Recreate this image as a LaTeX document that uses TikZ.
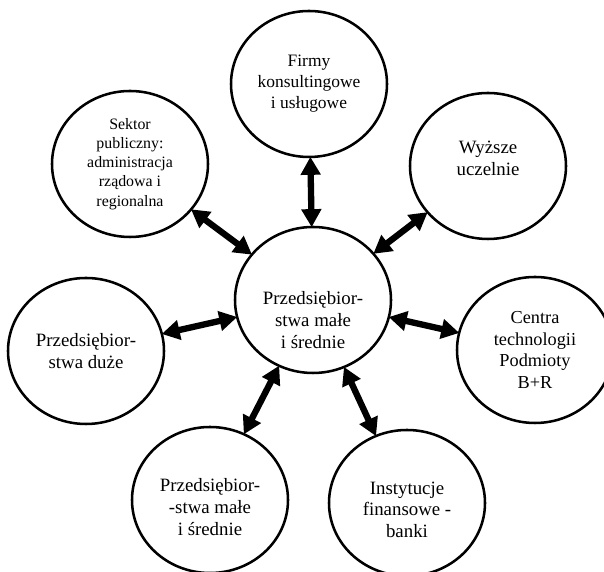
\documentclass[tikz,border=0pt]{standalone}
\usepackage{fontspec}
\setmainfont{Liberation Serif}
\usetikzlibrary{shapes.geometric,arrows.meta}
\newcommand{\w}{3.9cm}
\newcommand{\h}{3.65cm}

\begin{document}
\begin{tikzpicture}[bubble/.style={draw, ellipse, line width=1.8pt, minimum width=\w, minimum height=\h, align=center, inner sep=0pt, font=\fontsize{13.4}{15.6}\selectfont},
    txt/.style={align=center, font=\fontsize{13.4}{15.6}\selectfont},
    link/.style={{Triangle[length=0.45cm,width=0.48cm]}-{Triangle[length=0.45cm,width=0.48cm]}, line width=4.5pt, shorten <=-1pt, shorten >=-1pt}]
    \useasboundingbox (0,0) rectangle (15.1,14.3);

    % Middle
    \node[bubble, label={[txt, yshift=-0.5cm]center:Przedsiębior-\\stwa małe\\i średnie}] (c-msp) at (7.825,6.8) {};

    % Around
    \node[bubble, font=\fontsize{12.4}{15}\selectfont] (c-firmy) at (7.725,12.2) {Firmy\\konsultingowe\\i usługowe};
    \node[bubble, font=\fontsize{11.3}{13.6}\selectfont] (c-sektor) at (3.25,10.2) {Sektor\\publiczny:\\administracja\\rządowa i\\regionalna};
    \node[bubble, label={[txt, yshift=0.18cm]center:Wyższe\\uczelnie}] (c-uczelnie) at (12.2,10.15) {};
    \node[bubble] (c-duze) at (2.15,5.525) {Przedsiębior-\\stwa duże};
    \node[bubble, font=\fontsize{13}{15.4}\selectfont] (c-centra) at (13.375,5.55) {Centra\\technologii\\Podmioty\\B+R};
    \node[bubble, label={[txt, yshift=-0.17cm]center:Przedsiębior-\\-stwa małe\\i średnie}] (c-msp2) at (5.25,1.8) {};
    \node[bubble, label={[txt, yshift=-0.17cm]center:Instytucje\\finansowe -\\banki}] (c-banki) at (10.175,1.725) {};

    % Links
    \draw[link] (c-msp) -- (c-firmy);
    \draw[link] (c-msp) -- (c-sektor);
    \draw[link] (c-msp) -- (c-uczelnie);
    \draw[link] (c-msp) -- (c-duze);
    \draw[link] (c-msp) -- (c-centra);
    \draw[link] (c-msp) -- (c-msp2);
    \draw[link] (c-msp) -- (c-banki);

\end{tikzpicture}
\end{document}
